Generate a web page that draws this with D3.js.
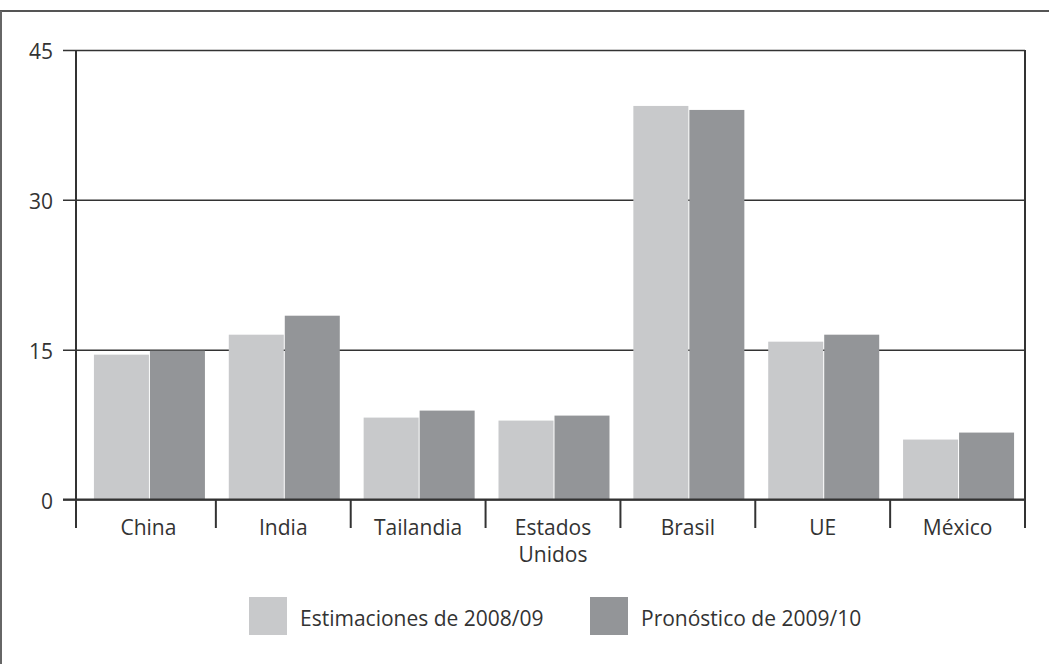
<!DOCTYPE html>
<html><head><meta charset="utf-8">
<script src="https://cdn.jsdelivr.net/npm/d3@7"></script>
<style>
html,body{margin:0;padding:0;background:#fff;}
svg{display:block;font-family:"Open Sans",sans-serif;}
</style></head>
<body>
<svg id="chart" width="1049" height="664"></svg>
<script>
const categories = ["China", "India", "Tailandia", "Estados Unidos", "Brasil", "UE", "México"];
const estimaciones = [14.5, 16.5, 8.2, 7.9, 39.4, 15.8, 6.0];
const pronostico = [14.9, 18.4, 8.9, 8.4, 39.0, 16.5, 6.7];
const seriesNames = ["Estimaciones de 2008/09", "Pronóstico de 2009/10"];
const yTicks = [0, 15, 30, 45];

const colors = ["#c8c9cb", "#939598"];
const svg = d3.select("#chart");
const lineCol = "#333";

// frame
svg.append("line").attr("x1",0).attr("x2",1049).attr("y1",11).attr("y2",11)
  .attr("stroke","#555").attr("stroke-width",2);
svg.append("line").attr("x1",1).attr("x2",1).attr("y1",11).attr("y2",664)
  .attr("stroke","#666").attr("stroke-width",2);

const x = d3.scaleBand().domain(categories).range([81, 1025]).paddingInner(0).paddingOuter(0);
const y = d3.scaleLinear().domain([0, 45]).range([499.5, 50]);

// y axis with gridlines
const yAxis = d3.axisLeft(y).tickValues(yTicks).tickSizeInner(-(1025-63)).tickSizeOuter(0).tickPadding(10);
const gy = svg.append("g").attr("transform","translate(63,0)").call(yAxis);
gy.select(".domain").remove();
gy.selectAll(".tick line").attr("stroke",lineCol).attr("stroke-width",1.5);
gy.selectAll(".tick text").attr("font-size",21).attr("fill","#333").attr("dy","0.42em")
  .attr("font-family","'Open Sans',sans-serif");

// bars
const barW = 55, gap = 1;
categories.forEach((c, i) => {
  const cx = x(c) + x.bandwidth()/2 + 1;
  [estimaciones[i], pronostico[i]].forEach((v, s) => {
    svg.append("rect")
      .attr("x", s === 0 ? cx - barW - gap/2 : cx + gap/2)
      .attr("y", y(v))
      .attr("width", barW)
      .attr("height", y(0) - y(v))
      .attr("fill", colors[s]);
  });
});

// zero line redraw on top
svg.append("line").attr("x1",63).attr("x2",1025).attr("y1",y(0)).attr("y2",y(0))
  .attr("stroke",lineCol).attr("stroke-width",2);

// left & right vertical axes
svg.append("line").attr("x1",76).attr("x2",76).attr("y1",y(45)).attr("y2",528)
  .attr("stroke",lineCol).attr("stroke-width",2);
svg.append("line").attr("x1",1025).attr("x2",1025).attr("y1",y(45)).attr("y2",528)
  .attr("stroke",lineCol).attr("stroke-width",2);

// category boundary ticks
const bounds = categories.slice(1).map(c => x(c));
svg.selectAll(".bt").data(bounds).enter().append("line")
  .attr("x1",d=>d).attr("x2",d=>d).attr("y1",y(0)).attr("y2",528)
  .attr("stroke",lineCol).attr("stroke-width",2);

// x axis labels
const xAxis = d3.axisBottom(x).tickSize(0).tickPadding(0);
const gx = svg.append("g").attr("transform",`translate(0,${y(0)})`).call(xAxis);
gx.select(".domain").remove();
gx.selectAll(".tick text").each(function(d){
  const t = d3.select(this);
  t.text(null).attr("y",0).attr("dy",null).attr("font-size",21).attr("fill","#333")
    .attr("font-family","'Open Sans',sans-serif");
  const words = d === "Estados Unidos" ? ["Estados","Unidos"] : [d];
  words.forEach((w,k) => t.append("tspan").attr("x",0).attr("y",35.5 + k*27).text(w));
});

// legend
const legX = [249, 590];
seriesNames.forEach((n, s) => {
  svg.append("rect").attr("x",legX[s]).attr("y",597).attr("width",38).attr("height",38).attr("fill",colors[s]);
  svg.append("text").attr("x",legX[s]+51).attr("y",626).attr("font-size",21).attr("fill","#333").text(n);
});
</script>
</body></html>
